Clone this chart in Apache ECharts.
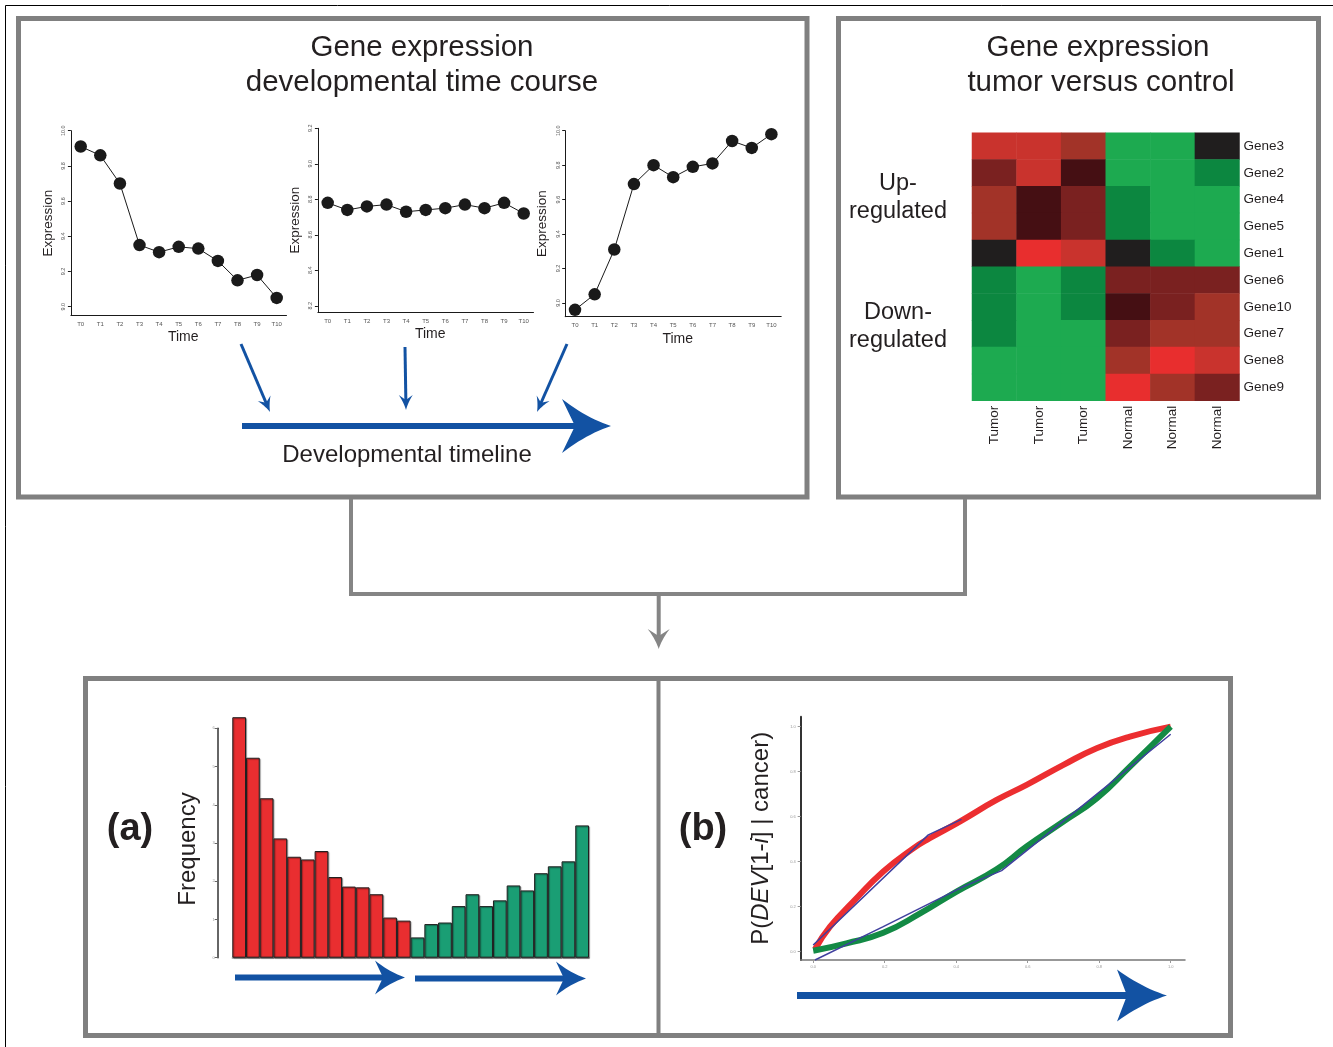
<!DOCTYPE html>
<html><head><meta charset="utf-8">
<script src="https://cdn.jsdelivr.net/npm/echarts@6/dist/echarts.min.js"></script>
<style>html,body{margin:0;padding:0;background:#fff}#c{width:1333px;height:1047px}</style>
</head><body><div id="c"></div><script>
// ---------- DATA ----------
const timePoints = ['T0','T1','T2','T3','T4','T5','T6','T7','T8','T9','T10'];
const exprDown = [9.91,9.86,9.70,9.35,9.31,9.34,9.33,9.26,9.15,9.18,9.05];
const exprFlat = [8.78,8.74,8.76,8.77,8.73,8.74,8.75,8.77,8.75,8.78,8.72];
const exprUp   = [8.96,9.05,9.31,9.69,9.80,9.73,9.79,9.81,9.94,9.90,9.98];
const ticksDown = [9.0,9.2,9.4,9.6,9.8,10.0];
const ticksFlat = [8.2,8.4,8.6,8.8,9.0,9.2];
const ticksUp   = [9.0,9.2,9.4,9.6,9.8,10.0];

const samples = ['Tumor','Tumor','Tumor','Normal','Normal','Normal'];
const genes = ['Gene3','Gene2','Gene4','Gene5','Gene1','Gene6','Gene10','Gene7','Gene8','Gene9'];
// expression level class per gene (rows) x sample (cols): 0 bright green ... 2 black ... 7 bright red
const levels = [
  [6,6,5,0,0,2],
  [4,6,3,0,0,1],
  [5,3,4,1,0,0],
  [5,3,4,1,0,0],
  [2,7,6,2,1,0],
  [1,0,1,4,4,4],
  [1,0,1,3,4,5],
  [1,0,0,4,5,5],
  [0,0,0,5,7,6],
  [0,0,0,7,5,4]
];
const levelColors = ['#1DAA50','#0C8740','#201E1E','#450F13','#7A2120','#A23328','#C9332D','#E82E2E'];

const histRed   = [6.29,5.23,4.17,3.12,2.64,2.57,2.79,2.11,1.86,1.84,1.66,1.05,0.97];
const histGreen = [0.53,0.88,0.92,1.35,1.66,1.35,1.50,1.89,1.76,2.21,2.39,2.52,3.46];
const histTicks = [0,1,2,3,4,5,6];

const redCurve = [[0.005,0.011],[0.047,0.111],[0.112,0.222],[0.196,0.356],[0.280,0.459],[0.326,0.504],[0.410,0.578],[0.513,0.674],[0.597,0.741],[0.700,0.830],[0.793,0.904],[0.886,0.956],[1.0,1.0]];
const greenCurve = [[0,0.004],[0.093,0.037],[0.196,0.084],[0.299,0.170],[0.401,0.267],[0.513,0.366],[0.597,0.467],[0.700,0.578],[0.793,0.681],[0.886,0.822],[1.0,1.0]];
const blueUpper = [[0,0.03],[0.322,0.519],[0.415,0.588]];
const blueLower = [[0.005,-0.037],[0.196,0.111],[0.42,0.289],[0.527,0.36],[0.70,0.58],[1.0,0.966]];
const curveTicks = [0,0.2,0.4,0.6,0.8,1.0];

// ---------- STYLE HELPERS ----------
const FONT = '"Liberation Sans", Arial, Helvetica, sans-serif';
const TXT = '#231F20';
const BLUE = '#1252A3';
const GRAY = '#858585';

function lineAxes(idx, ticks, min, max) {
  return {
    x: {
      type: 'category', gridIndex: idx, data: timePoints, boundaryGap: true,
      axisLine: {lineStyle: {color: '#1a1a1a', width: 1}},
      axisTick: {alignWithLabel: true, length: 3, lineStyle: {color: '#1a1a1a'}},
      axisLabel: {fontSize: 6, color: '#555', margin: 6, fontFamily: FONT, interval: 0},
      name: 'Time', nameLocation: 'middle', nameGap: 15,
      nameTextStyle: {fontSize: 14, color: TXT, fontFamily: FONT, padding: [0, 0, 0, 9]}
    },
    y: {
      type: 'value', gridIndex: idx, min: min, max: max,
      splitLine: {show: false},
      axisLine: {show: true, onZero: false, lineStyle: {color: '#1a1a1a', width: 1}},
      axisTick: {show: true, length: 3, customValues: ticks, lineStyle: {color: '#1a1a1a'}},
      axisLabel: {customValues: ticks, rotate: 90, fontSize: 5.5, color: '#555', margin: 4,
                  fontFamily: FONT, formatter: v => v.toFixed(1)},
      name: 'Expression', nameLocation: 'middle', nameGap: 16,
      nameTextStyle: {fontSize: 13.5, color: TXT, fontFamily: FONT}
    }
  };
}
const a0 = lineAxes(0, ticksDown, 8.95, 10.0);
const a1 = lineAxes(1, ticksFlat, 8.165, 9.2);
const a2 = lineAxes(2, ticksUp, 8.92, 10.0);

function lineSeries(idx, data) {
  return {
    type: 'line', xAxisIndex: idx, yAxisIndex: idx, data: data,
    symbol: 'circle', symbolSize: 12.5, showSymbol: true,
    lineStyle: {color: '#1a1a1a', width: 1},
    itemStyle: {color: '#1a1a1a'}, animation: false, silent: true
  };
}

// arrow helpers (decoration)
function arrow(x1, y1, x2, y2, width, L, W, N, color) {
  const len = Math.hypot(x2 - x1, y2 - y1);
  const dx = (x2 - x1) / len, dy = (y2 - y1) / len;
  const px = -dy, py = dx;
  const tip = [x2, y2];
  const b1 = [x2 - L * dx + W * px, y2 - L * dy + W * py];
  const b2 = [x2 - L * dx - W * px, y2 - L * dy - W * py];
  const notch = [x2 - N * dx, y2 - N * dy];
  const c1 = [x2 - 0.5 * L * dx + 0.3 * W * px, y2 - 0.5 * L * dy + 0.3 * W * py];
  const c2 = [x2 - 0.5 * L * dx - 0.3 * W * px, y2 - 0.5 * L * dy - 0.3 * W * py];
  const pts = [];
  const q = (a, c, b, t) => [(1-t)*(1-t)*a[0] + 2*(1-t)*t*c[0] + t*t*b[0], (1-t)*(1-t)*a[1] + 2*(1-t)*t*c[1] + t*t*b[1]];
  for (let i = 0; i <= 12; i++) pts.push(q(tip, c1, b1, i / 12));
  pts.push(notch);
  for (let i = 0; i <= 12; i++) pts.push(q(b2, c2, tip, i / 12));
  return [
    {type: 'line', shape: {x1: x1, y1: y1, x2: notch[0] + dx, y2: notch[1] + dy},
     style: {stroke: color, lineWidth: width}, z: 10},
    {type: 'polygon', shape: {points: pts}, style: {fill: color}, z: 10}
  ];
}
function text(x, y, t, size, extra, rot) {
  return {
    type: 'text', x: x, y: y, z: 10, rotation: rot || 0,
    style: Object.assign({text: t, fontSize: size, fill: TXT, fontFamily: FONT,
      textAlign: 'center', textVerticalAlign: 'middle', align: 'center', verticalAlign: 'middle'}, extra || {})
  };
}

const graphics = [
  // outer frame lines
  {type: 'line', shape: {x1: 5.5, y1: 5.5, x2: 1333, y2: 5.5}, style: {stroke: '#000', lineWidth: 1}},
  {type: 'line', shape: {x1: 5.5, y1: 5.5, x2: 5.5, y2: 1047}, style: {stroke: '#000', lineWidth: 1}},
  // panels
  {type: 'rect', shape: {x: 18.5, y: 18.5, width: 788.5, height: 478.5}, style: {fill: 'none', stroke: '#808080', lineWidth: 5}},
  {type: 'rect', shape: {x: 838.5, y: 18.5, width: 480, height: 478.5}, style: {fill: 'none', stroke: '#808080', lineWidth: 5}},
  {type: 'rect', shape: {x: 85.5, y: 678.5, width: 1145, height: 357}, style: {fill: 'none', stroke: '#808080', lineWidth: 5}},
  {type: 'line', shape: {x1: 658.5, y1: 678, x2: 658.5, y2: 1036}, style: {stroke: '#808080', lineWidth: 4}},
  // connectors
  {type: 'polyline', shape: {points: [[351, 499], [351, 594], [965, 594], [965, 499]]}, style: {stroke: GRAY, lineWidth: 4, fill: null}},
  ...arrow(658.7, 594, 658.7, 649, 4, 20, 11, 13, GRAY),
  // titles
  text(422, 48, 'Gene expression', 29.5),
  text(422, 83, 'developmental time course', 29.5),
  text(1098, 48, 'Gene expression', 29.5),
  text(1101, 83, 'tumor versus control', 29.5),
  text(898, 198, 'Up-\nregulated', 23.5, {lineHeight: 28}),
  text(898, 327, 'Down-\nregulated', 23.5, {lineHeight: 28}),
  text(407, 455, 'Developmental timeline', 24),
  text(130, 830, '(a)', 38, {fontWeight: 'bold'}),
  text(703, 830, '(b)', 38, {fontWeight: 'bold'}),
  text(188, 849, 'Frequency', 24, {}, Math.PI / 2),
  // blue arrows, top panel
  ...arrow(241, 344, 270, 412, 3, 15, 7, 10, BLUE),
  ...arrow(405, 347, 406, 410, 3, 15, 7, 10, BLUE),
  ...arrow(567, 344, 537, 412, 3, 15, 7, 10, BLUE),
  ...arrow(242, 426, 611, 426, 6, 49, 27, 36, BLUE),
  // histogram arrows
  ...arrow(235, 977.5, 405, 977.5, 6, 30, 17, 22, BLUE),
  ...arrow(415, 978.5, 586, 978.5, 6, 30, 17, 22, BLUE),
  // curve arrow
  ...arrow(797, 995.5, 1167, 995.5, 7, 50, 26, 40, BLUE)
];

const heatData = [];
levels.forEach((row, r) => row.forEach((v, c) => heatData.push([c, r, v])));

const option = {
  animation: false,
  backgroundColor: '#fff',
  textStyle: {fontFamily: FONT},
  grid: [
    {left: 70.9, top: 130.7, width: 215.6, height: 184.8},
    {left: 317.9, top: 128.3, width: 215.6, height: 183.7},
    {left: 565.2, top: 130.7, width: 216, height: 186},
    {left: 972, top: 132.7, width: 267.5, height: 268},
    {left: 232.3, top: 728.3, width: 356.7, height: 229.4},
    {left: 800.7, top: 716.7, width: 384.3, height: 243.3}
  ],
  xAxis: [
    a0.x, a1.x, a2.x,
    {type: 'category', gridIndex: 3, data: samples, position: 'bottom',
     axisLine: {show: false}, axisTick: {show: false}, splitLine: {show: false},
     axisLabel: {rotate: 90, fontSize: 13.5, color: TXT, margin: 5, interval: 0, fontFamily: FONT}},
    {type: 'category', gridIndex: 4, data: histRed.map((_, i) => 'r' + i).concat(histGreen.map((_, i) => 'g' + i)),
     boundaryGap: true,
     axisLine: {show: true, lineStyle: {color: '#9a9a9a', width: 1.5}},
     axisTick: {show: false}, axisLabel: {show: false}},
    {type: 'value', gridIndex: 5, min: -0.035, max: 1.04,
     splitLine: {show: false},
     axisLine: {show: true, onZero: false, lineStyle: {color: '#777', width: 1.5}},
     axisTick: {show: true, length: 3, customValues: curveTicks, lineStyle: {color: '#999'}},
     axisLabel: {customValues: curveTicks, fontSize: 4, color: '#999', margin: 5, formatter: v => v.toFixed(1)}}
  ],
  yAxis: [
    a0.y, a1.y, a2.y,
    {type: 'category', gridIndex: 3, data: genes, inverse: true, position: 'right',
     axisLine: {show: false}, axisTick: {show: false}, splitLine: {show: false},
     axisLabel: {fontSize: 13.5, color: TXT, margin: 4, interval: 0, fontFamily: FONT}},
    {type: 'value', gridIndex: 4, min: 0, max: 6, interval: 1, offset: 14.6,
     splitLine: {show: false},
     axisLine: {show: true, onZero: false, lineStyle: {color: '#333', width: 1.5}},
     axisTick: {show: true, length: 3, lineStyle: {color: '#666'}},
     axisLabel: {fontSize: 4, color: '#999', margin: 3}},
    {type: 'value', gridIndex: 5, min: -0.037, max: 1.044,
     splitLine: {show: false},
     axisLine: {show: true, onZero: false, lineStyle: {color: '#333', width: 2}},
     axisTick: {show: true, length: 3, customValues: curveTicks, lineStyle: {color: '#999'}},
     axisLabel: {customValues: curveTicks, fontSize: 4, color: '#999', margin: 5, formatter: v => v.toFixed(1)},
     name: '{n|P(}{it|DEV}{n|[1-}{it|i}{n|] | cancer)}', nameLocation: 'middle', nameGap: 27,
     nameTextStyle: {color: TXT, fontFamily: FONT, fontSize: 24,
       rich: {n: {fontSize: 24, color: TXT, fontFamily: FONT},
              it: {fontSize: 24, color: TXT, fontFamily: FONT, fontStyle: 'italic'}}}}
  ],
  visualMap: [{
    type: 'piecewise', show: false, seriesIndex: 3, dimension: 2,
    pieces: levelColors.map((c, i) => ({value: i, color: c}))
  }],
  series: [
    lineSeries(0, exprDown),
    lineSeries(1, exprFlat),
    lineSeries(2, exprUp),
    {type: 'heatmap', xAxisIndex: 3, yAxisIndex: 3, data: heatData,
     itemStyle: {borderWidth: 0}, silent: true},
    {type: 'bar', xAxisIndex: 4, yAxisIndex: 4, clip: false, barGap: '-100%', barCategoryGap: '0%',
     data: histRed.concat(histGreen.map(() => null)),
     itemStyle: {color: '#E92E30', borderColor: '#1f1f1f', borderWidth: 1,
                 shadowColor: 'rgba(0,0,0,0.35)', shadowOffsetX: 1, shadowOffsetY: 1, shadowBlur: 1}},
    {type: 'bar', xAxisIndex: 4, yAxisIndex: 4, clip: false, barGap: '-100%', barCategoryGap: '0%',
     data: histRed.map(() => null).concat(histGreen),
     itemStyle: {color: '#1A9E74', borderColor: '#1f1f1f', borderWidth: 1,
                 shadowColor: 'rgba(0,0,0,0.35)', shadowOffsetX: 1, shadowOffsetY: 1, shadowBlur: 1}},
    {type: 'line', xAxisIndex: 5, yAxisIndex: 5, data: redCurve, smooth: true, showSymbol: false,
     lineStyle: {color: '#EC2E30', width: 6}, clip: false},
    {type: 'line', xAxisIndex: 5, yAxisIndex: 5, data: greenCurve, smooth: true, showSymbol: false,
     lineStyle: {color: '#138A45', width: 6}, clip: false},
    {type: 'line', xAxisIndex: 5, yAxisIndex: 5, data: blueUpper, showSymbol: false,
     lineStyle: {color: '#3F3F9E', width: 1.5}, clip: false},
    {type: 'line', xAxisIndex: 5, yAxisIndex: 5, data: blueLower, showSymbol: false,
     lineStyle: {color: '#3F3F9E', width: 1.5}, clip: false}
  ],
  graphic: graphics
};

const chart = echarts.init(document.getElementById('c'), null, {renderer: 'canvas'});
chart.setOption(option);
</script></body></html>
